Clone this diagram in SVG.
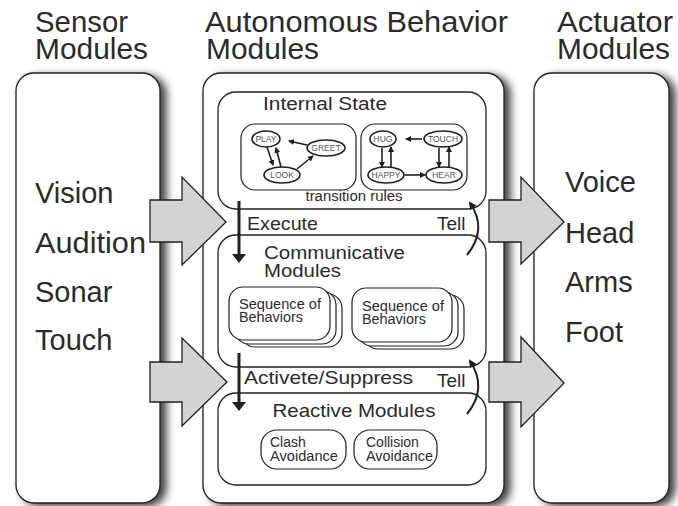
<svg xmlns="http://www.w3.org/2000/svg" width="678" height="506" viewBox="0 0 678 506">
<defs>
<style>
.t{font-family:"Liberation Sans",Arial,Helvetica,sans-serif;fill:#2b2b2b}
.title{font-size:29px}
.big{font-size:29px}
.mid{font-size:19px}
.sm{font-size:14px}
.tiny{font-size:8.5px;fill:#555;text-anchor:middle}
.box{fill:#fff;stroke:#231f20;stroke-width:1.3}
.sub{fill:#fff;stroke:#231f20;stroke-width:1.2}
.ell{fill:#fff;stroke:#231f20;stroke-width:1.6}
.blk{fill:#d1d3d4;stroke:#231f20;stroke-width:1.3;stroke-linejoin:miter}
.thin{fill:none;stroke:#231f20;stroke-width:1.6}
.thick{fill:none;stroke:#231f20;stroke-width:3}
.curve{fill:none;stroke:#231f20;stroke-width:2}
</style>
<filter id="sh" x="-10%" y="-5%" width="125%" height="115%">
<feGaussianBlur in="SourceAlpha" stdDeviation="4"/>
<feOffset dx="6" dy="3" result="o"/>
<feComponentTransfer in="o" result="s"><feFuncA type="linear" slope="0.75"/></feComponentTransfer>
<feMerge><feMergeNode in="s"/><feMergeNode in="SourceGraphic"/></feMerge>
</filter>
<marker id="ahS" viewBox="0 0 6 6" markerWidth="6" markerHeight="6" markerUnits="userSpaceOnUse" refX="5" refY="3" orient="auto">
<path d="M0,0 L6,3 L0,6 z" fill="#231f20"/>
</marker>
<marker id="ahB" viewBox="0 0 9 14" markerWidth="9" markerHeight="14" markerUnits="userSpaceOnUse" refX="4" refY="7" orient="auto">
<path d="M0,0 L9,7 L0,14 z" fill="#231f20"/>
</marker>
<marker id="ahT" viewBox="0 0 8 8" markerWidth="8" markerHeight="8" markerUnits="userSpaceOnUse" refX="6" refY="4" orient="auto">
<path d="M0,0 L8,4 L0,8 z" fill="#231f20"/>
</marker>
</defs>
<rect width="678" height="506" fill="#fff"/>

<!-- Titles -->
<g id="titles">
<text class="t title" x="35" y="32" textLength="93" lengthAdjust="spacingAndGlyphs">Sensor</text>
<text class="t title" x="35" y="59" textLength="113" lengthAdjust="spacingAndGlyphs">Modules</text>
<text class="t title" x="205" y="32" textLength="303" lengthAdjust="spacingAndGlyphs">Autonomous Behavior</text>
<text class="t title" x="206" y="59" textLength="113" lengthAdjust="spacingAndGlyphs">Modules</text>
<text class="t title" x="557" y="32" textLength="116" lengthAdjust="spacingAndGlyphs">Actuator</text>
<text class="t title" x="557" y="59" textLength="113" lengthAdjust="spacingAndGlyphs">Modules</text>
</g>

<!-- Sensor Modules -->
<g id="sensor">
<rect class="box" x="16" y="73" width="144" height="430" rx="18" filter="url(#sh)"/>
<text class="t big" x="35" y="203">Vision</text>
<text class="t big" x="35" y="253" textLength="111" lengthAdjust="spacingAndGlyphs">Audition</text>
<text class="t big" x="35" y="302">Sonar</text>
<text class="t big" x="35" y="350">Touch</text>
</g>

<!-- Autonomous Behavior Modules -->
<g id="autonomous">
<rect class="box" x="203" y="73" width="301" height="430" rx="18" filter="url(#sh)"/>
</g>

<!-- Actuator Modules -->
<g id="actuator">
<rect class="box" x="534" y="73" width="135" height="430" rx="18" filter="url(#sh)"/>
<text class="t big" x="565" y="192">Voice</text>
<text class="t big" x="565" y="243">Head</text>
<text class="t big" x="565" y="292">Arms</text>
<text class="t big" x="565" y="342">Foot</text>
</g>

<!-- Internal State -->
<g id="internal-state">
<rect class="box" x="218" y="92" width="268" height="117" rx="18"/>
<text class="t" x="263" y="110" font-size="17.5" textLength="124" lengthAdjust="spacingAndGlyphs">Internal State</text>
<rect class="sub" x="241" y="124" width="115" height="66" rx="14"/>
<rect class="sub" x="361" y="124" width="106" height="66" rx="14"/>
<text class="t" x="354" y="201" font-size="14" text-anchor="middle" textLength="97" lengthAdjust="spacingAndGlyphs">transition rules</text>
</g>
<g id="state-play"><ellipse class="ell" cx="266" cy="139" rx="14" ry="8"/><text class="t tiny" x="266" y="142">PLAY</text></g>
<g id="state-greet"><ellipse class="ell" cx="326" cy="148" rx="19" ry="8"/><text class="t tiny" x="326" y="151">GREET</text></g>
<g id="state-look"><ellipse class="ell" cx="282" cy="175" rx="18" ry="8"/><text class="t tiny" x="282" y="178">LOOK</text></g>
<g id="state-hug"><ellipse class="ell" cx="383" cy="139" rx="13" ry="8"/><text class="t tiny" x="383" y="142">HUG</text></g>
<g id="state-touch"><ellipse class="ell" cx="443" cy="139" rx="19" ry="8"/><text class="t tiny" x="443" y="142">TOUCH</text></g>
<g id="state-happy"><ellipse class="ell" cx="386" cy="175" rx="18" ry="8"/><text class="t tiny" x="386" y="178">HAPPY</text></g>
<g id="state-hear"><ellipse class="ell" cx="444" cy="175" rx="18" ry="8"/><text class="t tiny" x="444" y="178">HEAR</text></g>

<!-- Communicative Modules -->
<g id="communicative">
<rect class="box" x="218" y="235" width="268" height="132" rx="18"/>
<text class="t mid" x="264" y="259" textLength="141" lengthAdjust="spacingAndGlyphs">Communicative</text>
<text class="t mid" x="264" y="277" textLength="77" lengthAdjust="spacingAndGlyphs">Modules</text>
</g>
<g id="sequence-1">
<rect class="sub" x="241" y="294" width="101" height="53" rx="14"/>
<rect class="sub" x="235" y="291" width="101" height="53" rx="14"/>
<rect class="sub" x="229" y="287" width="101" height="53" rx="14"/>
<text class="t sm" x="239" y="309" textLength="82" lengthAdjust="spacingAndGlyphs">Sequence of</text>
<text class="t sm" x="239" y="322" textLength="64" lengthAdjust="spacingAndGlyphs">Behaviors</text>
</g>
<g id="sequence-2">
<rect class="sub" x="364" y="295" width="100" height="54" rx="14"/>
<rect class="sub" x="358" y="292" width="100" height="54" rx="14"/>
<rect class="sub" x="352" y="288" width="100" height="54" rx="14"/>
<text class="t sm" x="362" y="311" textLength="82" lengthAdjust="spacingAndGlyphs">Sequence of</text>
<text class="t sm" x="362" y="324" textLength="64" lengthAdjust="spacingAndGlyphs">Behaviors</text>
</g>

<!-- Reactive Modules -->
<g id="reactive">
<rect class="box" x="218" y="393" width="268" height="92" rx="18"/>
<text class="t mid" x="354" y="417" text-anchor="middle" textLength="163" lengthAdjust="spacingAndGlyphs">Reactive Modules</text>
</g>
<g id="clash-avoidance">
<rect class="sub" x="261" y="430" width="85" height="39" rx="16"/>
<text class="t sm" x="270" y="447">Clash</text>
<text class="t sm" x="270" y="461" textLength="68" lengthAdjust="spacingAndGlyphs">Avoidance</text>
</g>
<g id="collision-avoidance">
<rect class="sub" x="354" y="430" width="83" height="39" rx="16"/>
<text class="t sm" x="366" y="447">Collision</text>
<text class="t sm" x="366" y="461" textLength="67" lengthAdjust="spacingAndGlyphs">Avoidance</text>
</g>

<!-- Connectors -->
<g id="connectors">
<polygon class="blk" points="150,200 182,200 182,177 226,222 182,265 182,242 150,242"/>
<polygon class="blk" points="150,362 182,362 182,338 227,382 182,426 182,402 150,402"/>
<polygon class="blk" points="489,200 521,200 521,177 564,222 521,264 521,242 489,242"/>
<polygon class="blk" points="489,362 521,362 521,337 564,383 521,427 521,402 489,402"/>

<line class="thin" x1="267" y1="147" x2="273" y2="165" marker-end="url(#ahS)"/>
<line class="thin" x1="281" y1="167" x2="276" y2="148" marker-end="url(#ahS)"/>
<line class="thin" x1="297" y1="169" x2="313" y2="156" marker-end="url(#ahS)"/>
<line class="thin" x1="307" y1="145" x2="289" y2="141" marker-end="url(#ahS)"/>
<line class="thin" x1="382" y1="148" x2="382" y2="167" marker-end="url(#ahS)"/>
<line class="thin" x1="391" y1="167" x2="391" y2="147" marker-end="url(#ahS)"/>
<line class="thin" x1="422" y1="139" x2="406" y2="139" marker-end="url(#ahS)"/>
<line class="thin" x1="405" y1="175" x2="425" y2="175" marker-end="url(#ahS)"/>
<line class="thin" x1="439" y1="148" x2="439" y2="167" marker-end="url(#ahS)"/>
<line class="thin" x1="449" y1="167" x2="449" y2="147" marker-end="url(#ahS)"/>

<line class="thick" x1="239" y1="201" x2="239" y2="258" marker-end="url(#ahB)"/>
<line class="thick" x1="239" y1="353" x2="239" y2="406" marker-end="url(#ahB)"/>
<path class="curve" d="M467,255 Q488,229 470,203" marker-end="url(#ahT)"/>
<path class="curve" d="M467,414 Q488,388 470,361" marker-end="url(#ahT)"/>
<text class="t mid" x="247" y="230" textLength="71" lengthAdjust="spacingAndGlyphs">Execute</text>
<text class="t mid" x="437" y="230">Tell</text>
<text class="t mid" x="244" y="384" textLength="169" lengthAdjust="spacingAndGlyphs">Activete/Suppress</text>
<text class="t mid" x="437" y="387">Tell</text>
</g>
</svg>
